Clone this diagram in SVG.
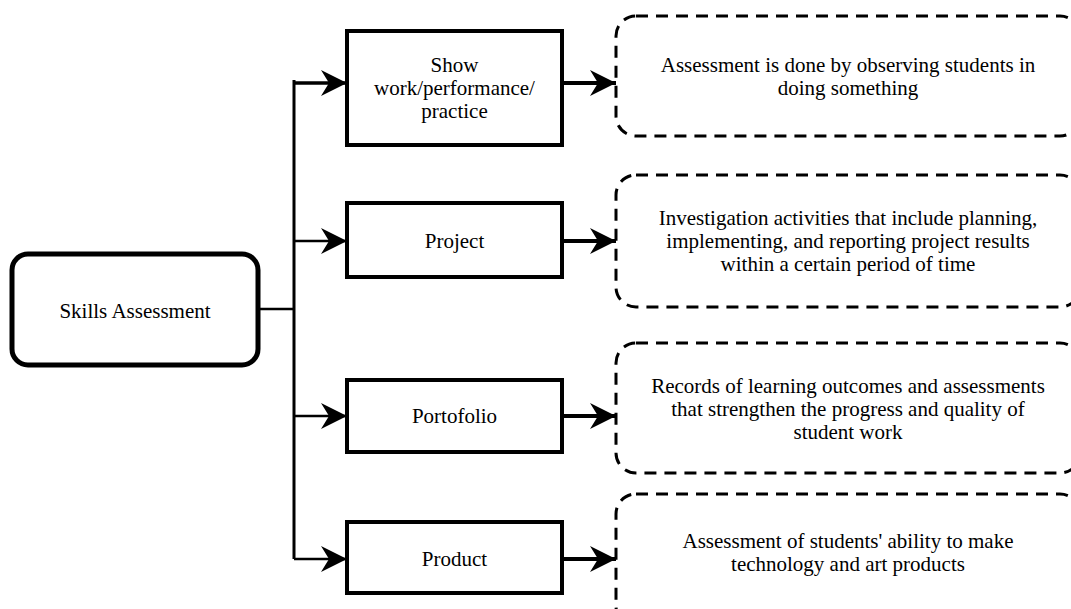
<svg xmlns="http://www.w3.org/2000/svg" width="1071" height="609" viewBox="0 0 1071 609">
<style>
text{font-family:"Liberation Serif","Times New Roman",serif;font-size:21px;fill:#000;text-anchor:middle}
.box{fill:#fff;stroke:#000;stroke-width:4}
.dash{fill:#fff;stroke:#000;stroke-width:3;stroke-dasharray:12 8}
.ln{fill:none;stroke:#000}
</style>
<defs>
<marker id="ah" markerUnits="userSpaceOnUse" markerWidth="26" markerHeight="26" refX="26" refY="13" orient="auto" viewBox="0 0 26 26">
<path d="M0,0 L26,13 L0,26 L8,13 Z" fill="#000"/>
</marker>
</defs>
<rect width="1071" height="609" fill="#fff"/>
<g id="connectors">
<path class="ln" stroke-width="2.5" d="M258,309 H294"/>
<path class="ln" stroke-width="3" d="M294,80 V559"/>
<path class="ln" stroke-width="3.5" d="M294,83 H347" marker-end="url(#ah)"/>
<path class="ln" stroke-width="2.7" d="M294,241 H347" marker-end="url(#ah)"/>
<path class="ln" stroke-width="2.7" d="M294,416 H347" marker-end="url(#ah)"/>
<path class="ln" stroke-width="2.7" d="M294,559 H347" marker-end="url(#ah)"/>
<path class="ln" stroke-width="4" d="M562,83 H616" marker-end="url(#ah)"/>
<path class="ln" stroke-width="4" d="M562,241 H616" marker-end="url(#ah)"/>
<path class="ln" stroke-width="4" d="M562,416 H616" marker-end="url(#ah)"/>
<path class="ln" stroke-width="4" d="M562,559 H616" marker-end="url(#ah)"/>
</g>
<g id="skills">
<rect x="12" y="254" width="246" height="111" rx="16" fill="#fff" stroke="#000" stroke-width="5"/>
<text x="135" y="318">Skills Assessment</text>
</g>
<g id="show">
<rect class="box" x="347" y="31" width="215" height="114"/>
<text x="454.5" y="72">Show</text>
<text x="454.5" y="95">work/performance/</text>
<text x="454.5" y="118">practice</text>
</g>
<g id="project">
<rect class="box" x="347" y="203" width="215" height="74"/>
<text x="454.5" y="248">Project</text>
</g>
<g id="portofolio">
<rect class="box" x="347" y="380" width="215" height="72"/>
<text x="454.5" y="423">Portofolio</text>
</g>
<g id="product">
<rect class="box" x="347" y="522" width="215" height="71"/>
<text x="454.5" y="566">Product</text>
</g>
<g id="desc-show">
<rect class="dash" x="616" y="16" width="464" height="120" rx="20"/>
<text x="848" y="72">Assessment is done by observing students in</text>
<text x="848" y="95">doing something</text>
</g>
<g id="desc-project">
<rect class="dash" x="616" y="175" width="464" height="132" rx="20"/>
<text x="848" y="225">Investigation activities that include planning,</text>
<text x="848" y="248">implementing, and reporting project results</text>
<text x="848" y="271">within a certain period of time</text>
</g>
<g id="desc-portofolio">
<rect class="dash" x="616" y="343" width="464" height="130" rx="20"/>
<text x="848" y="393">Records of learning outcomes and assessments</text>
<text x="848" y="416">that strengthen the progress and quality of</text>
<text x="848" y="439">student work</text>
</g>
<g id="desc-product">
<rect class="dash" x="616" y="494" width="464" height="132" rx="20"/>
<text x="848" y="548">Assessment of students' ability to make</text>
<text x="848" y="571">technology and art products</text>
</g>
</svg>
